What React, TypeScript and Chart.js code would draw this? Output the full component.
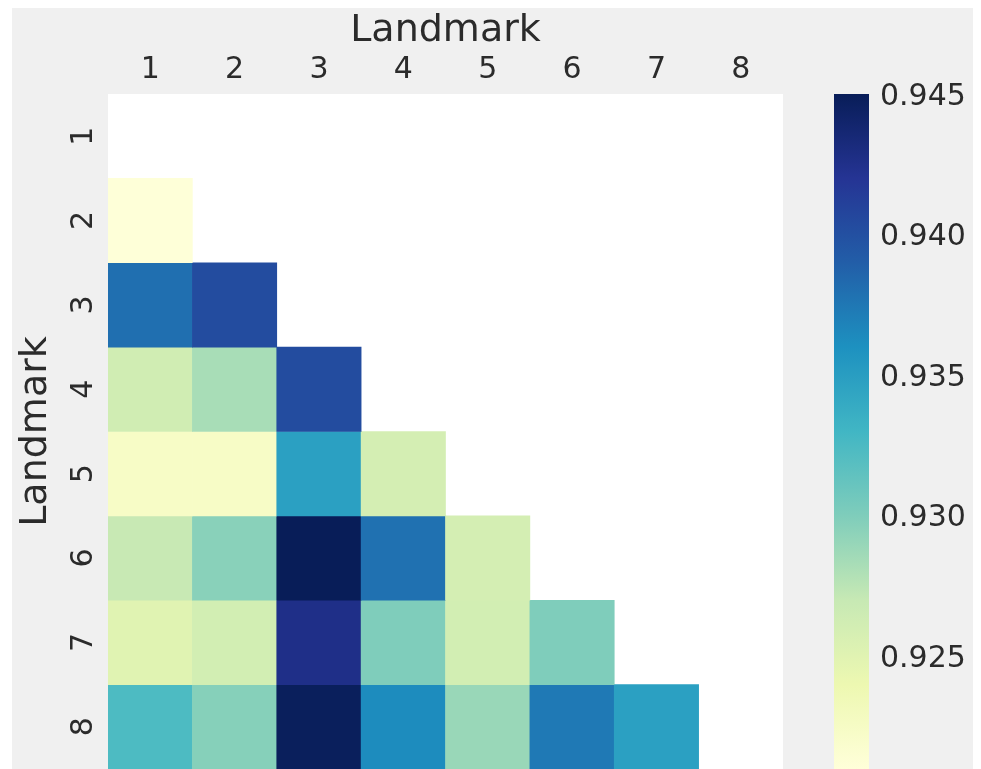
import React, { useEffect, useRef } from "react";
import { Chart, registerables } from "chart.js";

Chart.register(...registerables);

// ---- data ----
const colLabels = ["1", "2", "3", "4", "5", "6", "7", "8"];
const rowLabels = ["1", "2", "3", "4", "5", "6", "7", "8"];
// lower-triangular correlation values (row i, columns 1..i-1)
const row1: number[] = [];
const row2 = [0.9212];
const row3 = [0.9381, 0.9404];
const row4 = [0.9264, 0.9284, 0.9404];
const row5 = [0.9225, 0.9225, 0.9349, 0.9261];
const row6 = [0.927, 0.9297, 0.9451, 0.938, 0.9261];
const row7 = [0.9251, 0.9262, 0.9427, 0.9301, 0.9262, 0.9301];
const row8 = [0.9325, 0.9298, 0.9449, 0.9364, 0.929, 0.9375, 0.9349];
const rows = [row1, row2, row3, row4, row5, row6, row7, row8];
const cbTicks = [0.925, 0.93, 0.935, 0.94, 0.945];
const vMin = 0.9211;
const vMax = 0.9451;
const axisTitle = "Landmark";

// YlGnBu colormap
const YLGNBU = ["#ffffd9", "#edf8b1", "#c7e9b4", "#7fcdbb", "#41b6c4", "#1d91c0", "#225ea8", "#253494", "#081d58"];
const hexToRgb = (h: string) => [parseInt(h.slice(1, 3), 16), parseInt(h.slice(3, 5), 16), parseInt(h.slice(5, 7), 16)];
const colorFor = (v: number) => {
  let t = (v - vMin) / (vMax - vMin);
  t = Math.max(0, Math.min(1, t));
  const pos = t * (YLGNBU.length - 1);
  const i = Math.min(Math.floor(pos), YLGNBU.length - 2);
  const f = pos - i;
  const a = hexToRgb(YLGNBU[i]);
  const b = hexToRgb(YLGNBU[i + 1]);
  const c = a.map((x, k) => Math.round(x + (b[k] - x) * f));
  return `rgb(${c[0]},${c[1]},${c[2]})`;
};

const FONT = "'DejaVu Sans', sans-serif";
const TEXT = "#2b2b2b";

const bgPlugin = {
  id: "bg",
  beforeDraw(chart: any) {
    const { ctx, chartArea } = chart;
    ctx.save();
    ctx.fillStyle = "#ffffff";
    ctx.fillRect(0, 0, chart.width, chart.height);
    ctx.fillStyle = "#f0f0f0";
    ctx.fillRect(12, 8, 961, chart.height - 8);
    ctx.fillStyle = "#ffffff";
    ctx.fillRect(chartArea.left, chartArea.top, chartArea.right - chartArea.left, chartArea.bottom - chartArea.top);
    ctx.restore();
  },
};

const colorbarPlugin = {
  id: "colorbar",
  afterDraw(chart: any) {
    const sc = chart.scales.cb;
    if (!sc) return;
    const { ctx } = chart;
    const yTop = sc.getPixelForValue(vMax);
    const yBot = sc.getPixelForValue(vMin);
    const x0 = 834;
    const w = 35;
    const g = ctx.createLinearGradient(0, yBot, 0, yTop);
    YLGNBU.forEach((c, i) => g.addColorStop(i / (YLGNBU.length - 1), c));
    ctx.save();
    ctx.fillStyle = g;
    ctx.fillRect(x0, yTop, w, yBot - yTop);
    ctx.restore();
  },
};

export default function App() {
  const ref = useRef<HTMLCanvasElement>(null);

  useEffect(() => {
    if (!ref.current) return;
    const datasets = rows.map((vals, r) => ({
      label: rowLabels[r],
      data: colLabels.map((_, c) => (c < vals.length ? [r, r + 1] : null)),
      backgroundColor: colLabels.map((_, c) => (c < vals.length ? colorFor(vals[c]) : "rgba(0,0,0,0)")),
      borderWidth: 0,
      grouped: false,
      barPercentage: 1,
      categoryPercentage: 1,
      xAxisID: "x",
      yAxisID: "y",
    }));

    const chart = new Chart(ref.current, {
      type: "bar",
      data: { labels: colLabels, datasets: datasets as any },
      options: {
        responsive: false,
        animation: false,
        devicePixelRatio: 1,
        layout: { padding: { left: 12, top: 8, right: 0, bottom: 0 } },
        plugins: { legend: { display: false }, tooltip: { enabled: false } },
        scales: {
          x: {
            type: "category",
            position: "top",
            offset: true,
            grid: { display: false, drawTicks: false },
            border: { display: false },
            ticks: { color: TEXT, font: { family: FONT, size: 30, lineHeight: 1 }, padding: 9, autoSkip: false, maxRotation: 0 },
            title: { display: true, text: axisTitle, color: TEXT, font: { family: FONT, size: 38, lineHeight: 1 }, padding: { top: 4, bottom: 0 } },
            afterFit: (s: any) => { s.height = 86; s.paddingLeft = 0; s.paddingRight = 0; },
          },
          y: {
            type: "linear",
            position: "left",
            min: 0,
            max: rowLabels.length,
            reverse: true,
            grid: { display: false, drawTicks: false },
            border: { display: false },
            afterBuildTicks: (s: any) => { s.ticks = rowLabels.map((_, i) => ({ value: i + 0.5 })); },
            ticks: {
              color: TEXT,
              font: { family: FONT, size: 30, lineHeight: 1 },
              padding: 14,
              autoSkip: false,
              minRotation: 90,
              maxRotation: 90,
              crossAlign: "center",
              callback: (_v: any, i: number) => rowLabels[i],
            },
            title: { display: true, text: axisTitle, color: TEXT, font: { family: FONT, size: 38, lineHeight: 1 }, padding: { top: 5, bottom: 0 } },
            afterFit: (s: any) => { s.width = 96; s.paddingTop = 0; s.paddingBottom = 0; },
          },
          cb: {
            type: "linear",
            position: "right",
            min: vMin,
            max: vMax,
            grid: { display: false, drawTicks: false },
            border: { display: false },
            afterBuildTicks: (s: any) => { s.ticks = cbTicks.map((v) => ({ value: v })); },
            ticks: {
              color: TEXT,
              font: { family: FONT, size: 30, lineHeight: 1 },
              padding: 97,
              autoSkip: false,
              callback: (v: any) => Number(v).toFixed(3),
            },
            afterFit: (s: any) => { s.width = 198; s.paddingTop = 0; s.paddingBottom = 0; },
          },
        },
      } as any,
      plugins: [bgPlugin, colorbarPlugin],
    });
    return () => chart.destroy();
  }, []);

  return (
    <div style={{ position: "absolute", left: 0, top: 0, width: 981, height: 769, background: "#fff" }}>
      <canvas ref={ref} width={981} height={769} style={{ display: "block", width: 981, height: 769 }} />
    </div>
  );
}
